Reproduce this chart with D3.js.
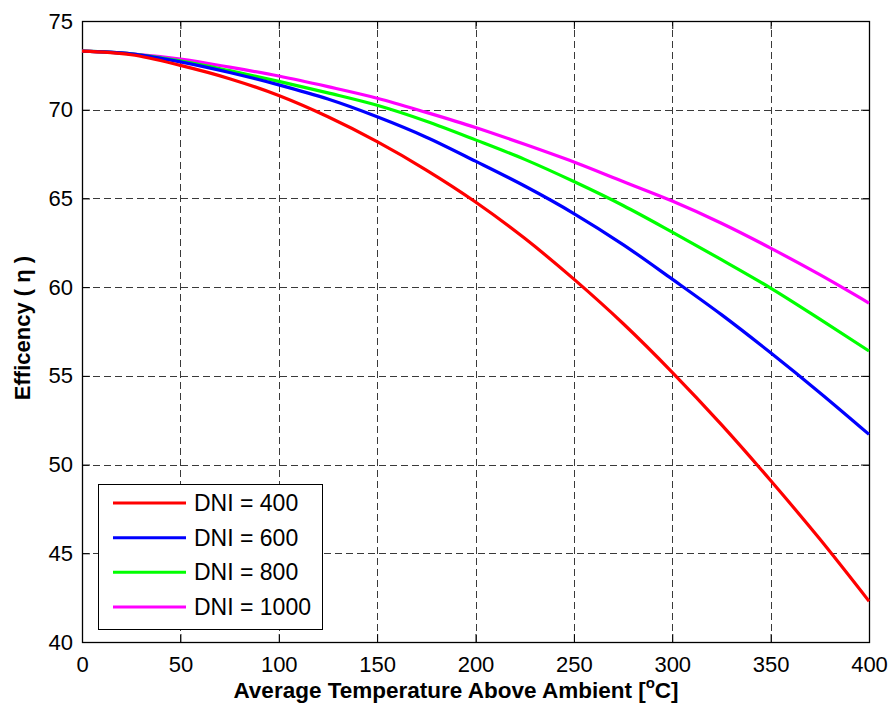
<!DOCTYPE html>
<html>
<head>
<meta charset="utf-8">
<script src="https://cdn.jsdelivr.net/npm/d3@7"></script>
<style>
  html, body { margin: 0; padding: 0; background: #fff; }
  svg { display: block; font-family: "Liberation Sans", Arial, sans-serif; }
</style>
</head>
<body>
<svg id="chart" width="894" height="713"></svg>
<script>
// ---- data ----
const temps = [0, 25, 50, 75, 100, 125, 150, 175, 200, 225, 250, 275, 300, 325, 350, 375, 400];
const dni400  = [73.3, 73.1, 72.5, 71.75, 70.8, 69.6, 68.2, 66.6, 64.8, 62.75, 60.45, 57.95, 55.2, 52.25, 49.1, 45.8, 42.3];
const dni600  = [73.3, 73.15, 72.7, 72.1, 71.4, 70.6, 69.6, 68.45, 67.1, 65.7, 64.15, 62.4, 60.45, 58.45, 56.3, 54.05, 51.7];
const dni800  = [73.3, 73.15, 72.75, 72.2, 71.6, 70.95, 70.25, 69.35, 68.3, 67.2, 65.95, 64.6, 63.1, 61.55, 59.95, 58.2, 56.4];
const dni1000 = [73.3, 73.15, 72.85, 72.4, 71.9, 71.3, 70.65, 69.85, 69.0, 68.05, 67.05, 65.95, 64.85, 63.6, 62.2, 60.7, 59.1];
const seriesNames = ["DNI = 400", "DNI = 600", "DNI = 800", "DNI = 1000"];
const seriesColors = ["#ff0000", "#0000ff", "#00ff00", "#ff00ff"];
const xTicks = [0, 50, 100, 150, 200, 250, 300, 350, 400];
const yTicks = [40, 45, 50, 55, 60, 65, 70, 75];

const series = [dni400, dni600, dni800, dni1000].map((vals, i) => ({
  name: seriesNames[i], color: seriesColors[i],
  points: temps.map((t, j) => ({ x: t, y: vals[j] }))
}));

const svg = d3.select("#chart");
const L = 82, R = 869, T = 21, B = 642;
const x = d3.scaleLinear().domain([0, 400]).range([L, R]);
const y = d3.scaleLinear().domain([40, 75]).range([B, T]);

svg.append("rect").attr("width", 894).attr("height", 713).attr("fill", "#fff");

// grid
const grid = svg.append("g").attr("stroke", "#3a3a3a").attr("stroke-width", 1)
  .attr("stroke-dasharray", "7,4").attr("shape-rendering", "crispEdges");
xTicks.slice(1, -1).forEach(t => grid.append("line")
  .attr("x1", Math.round(x(t)) + 0.5).attr("x2", Math.round(x(t)) + 0.5).attr("y1", B).attr("y2", T));
yTicks.slice(1, -1).forEach(t => grid.append("line")
  .attr("y1", Math.round(y(t)) + 0.5).attr("y2", Math.round(y(t)) + 0.5).attr("x1", L).attr("x2", R));

// axes (ticks inward)
const tickLen = 8;
const xAxisB = d3.axisBottom(x).tickValues(xTicks).tickSize(-tickLen).tickPadding(14).tickFormat(d3.format("d"));
const xAxisT = d3.axisTop(x).tickValues(xTicks).tickSize(-tickLen).tickFormat("");
const yAxisL = d3.axisLeft(y).tickValues(yTicks).tickSize(-tickLen).tickPadding(9).tickFormat(d3.format("d"));
const yAxisR = d3.axisRight(y).tickValues(yTicks).tickSize(-tickLen).tickFormat("");

function styleAxis(g) {
  g.select(".domain").remove();
  g.selectAll("line").attr("stroke", "#000");
  g.selectAll("text").attr("fill", "#000").style("font-size", "22px")
    .style("font-family", "'Liberation Sans', Arial, sans-serif");
}
svg.append("g").attr("transform", `translate(0,${B})`).call(xAxisB).call(styleAxis);
svg.append("g").attr("transform", `translate(0,${T})`).call(xAxisT).call(styleAxis);
svg.append("g").attr("transform", `translate(${L},0)`).call(yAxisL).call(styleAxis);
svg.append("g").attr("transform", `translate(${R},0)`).call(yAxisR).call(styleAxis);

// box
svg.append("rect").attr("x", L + 0.5).attr("y", T + 0.5).attr("width", R - L).attr("height", B - T)
  .attr("fill", "none").attr("stroke", "#000").attr("stroke-width", 1.3);

// lines
const line = d3.line().x(d => x(d.x)).y(d => y(d.y)).curve(d3.curveMonotoneX);
svg.append("g").selectAll("path").data(series.slice().reverse()).join("path")
  .attr("d", d => line(d.points)).attr("fill", "none")
  .attr("stroke", d => d.color).attr("stroke-width", 3.2).attr("stroke-linejoin", "round");

// legend
const lg = svg.append("g");
lg.append("rect").attr("x", 98.5).attr("y", 484.5).attr("width", 224).attr("height", 145)
  .attr("fill", "#fff").attr("stroke", "#000").attr("stroke-width", 1);
const rowY = d3.scalePoint().domain(seriesNames).range([503, 607]);
series.forEach(s => {
  const cy = rowY(s.name);
  lg.append("line").attr("x1", 113).attr("x2", 186).attr("y1", cy).attr("y2", cy)
    .attr("stroke", s.color).attr("stroke-width", 3);
  lg.append("text").attr("x", 194).attr("y", cy + 8).attr("font-size", 23).attr("fill", "#000")
    .text(s.name);
});

// axis titles
const xt = svg.append("text").attr("x", 456).attr("y", 698).attr("text-anchor", "middle")
  .attr("font-size", 22.5).attr("font-weight", "bold").attr("fill", "#000");
xt.append("tspan").text("Average Temperature Above Ambient [");
xt.append("tspan").attr("dy", -10).attr("font-size", 15).text("o");
xt.append("tspan").attr("dy", 10).text("C]");

svg.append("text").attr("transform", "translate(30,328) rotate(-90)").attr("text-anchor", "middle")
  .attr("font-size", 22).attr("font-weight", "bold").attr("fill", "#000")
  .text("Efficency ( η )");
</script>
</body>
</html>
